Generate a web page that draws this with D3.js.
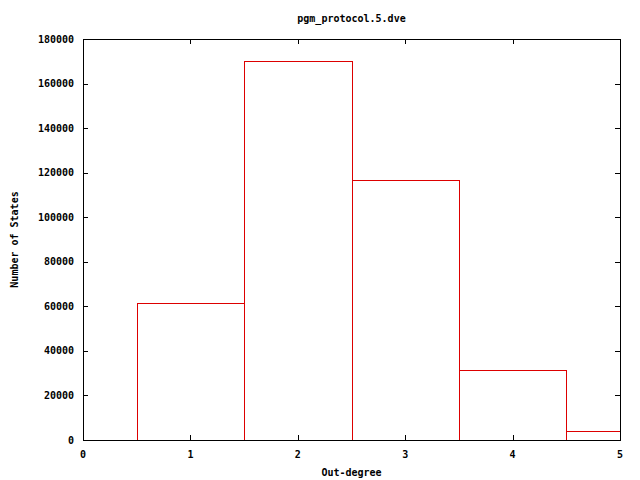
<!DOCTYPE html>
<html>
<head>
<meta charset="utf-8">
<script src="https://cdn.jsdelivr.net/npm/d3@7"></script>
<style>
  body { margin: 0; background: #fff; }
  text { font-family: "DejaVu Sans Mono", monospace; font-weight: bold; font-size: 10px; fill: #000; }
</style>
</head>
<body>
<svg id="chart" width="640" height="480"></svg>
<script>
// histogram bins (centre of bin) and counts
var degrees = [1, 2, 3, 4, 5];
var counts  = [61500, 170000, 116600, 31300, 4000];
var xTicks  = [0, 1, 2, 3, 4, 5];
var yTicks  = [0, 20000, 40000, 60000, 80000, 100000, 120000, 140000, 160000, 180000];

var svg = d3.select("#chart"),
    margin = {top: 39, right: 20, bottom: 40, left: 83},
    width  = 640 - margin.left - margin.right,
    height = 480 - margin.top - margin.bottom;

var x = d3.scaleLinear().domain([0, 5]).range([0, width]);
var y = d3.scaleLinear().domain([0, 180000]).range([height, 0]);

svg.append("defs").append("clipPath")
  .attr("id", "clip")
  .append("rect")
  .attr("width", width)
  .attr("height", height);

var g = svg.append("g")
  .attr("transform", "translate(" + margin.left + "," + margin.top + ")");

// bars as outlined steps
g.append("g").attr("clip-path", "url(#clip)")
  .selectAll("rect")
  .data(degrees)
  .enter().append("rect")
    .attr("x", function(d) { return Math.round(x(d - 0.5)) + 0.5; })
    .attr("width", function(d) { return Math.round(x(d + 0.5)) - Math.round(x(d - 0.5)); })
    .attr("y", function(d, i) { return Math.round(y(counts[i])) + 0.5; })
    .attr("height", function(d, i) { return Math.round(height - y(counts[i])); })
    .attr("fill", "none")
    .attr("stroke", "#dd0000")
    .attr("stroke-width", 1);

var tick = 5;

// x ticks (bottom + mirrored top)
xTicks.forEach(function(t) {
  var px = Math.round(x(t)) + 0.5;
  g.append("line").attr("x1", px).attr("x2", px).attr("y1", height).attr("y2", height - tick).attr("stroke", "#000");
  g.append("line").attr("x1", px).attr("x2", px).attr("y1", 0).attr("y2", tick).attr("stroke", "#000");
  g.append("text").attr("x", x(t)).attr("y", height + 18).attr("text-anchor", "middle").text(t);
});

// y ticks (left + mirrored right)
yTicks.forEach(function(t) {
  var py = Math.round(y(t)) + 0.5;
  g.append("line").attr("x1", 0).attr("x2", tick).attr("y1", py).attr("y2", py).attr("stroke", "#000");
  g.append("line").attr("x1", width).attr("x2", width - tick).attr("y1", py).attr("y2", py).attr("stroke", "#000");
  g.append("text").attr("x", -9).attr("y", y(t)).attr("dy", "0.35em").attr("text-anchor", "end").text(t);
});

// border
g.append("rect")
  .attr("x", 0.5).attr("y", 0.5)
  .attr("width", width).attr("height", height)
  .attr("fill", "none").attr("stroke", "#000");

// title and axis labels
svg.append("text").attr("x", margin.left + width / 2).attr("y", 22)
  .attr("text-anchor", "middle").text("pgm_protocol.5.dve");
svg.append("text").attr("x", margin.left + width / 2).attr("y", 476)
  .attr("text-anchor", "middle").text("Out-degree");
svg.append("text")
  .attr("transform", "translate(18," + (margin.top + height / 2) + ") rotate(-90)")
  .attr("text-anchor", "middle").text("Number of States");
</script>
</body>
</html>
